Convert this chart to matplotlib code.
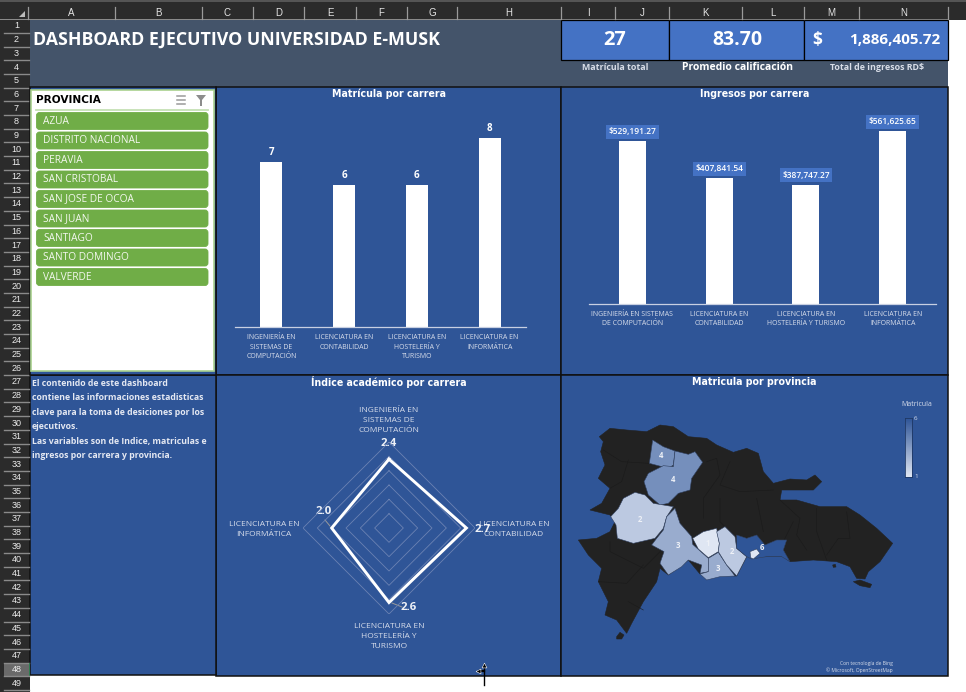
"""
Dashboard ejecutivo Universidad E-Musk, redrawn as a spreadsheet screenshot.
The root axes works in image pixels, charts get their own axes placed on it.
"""

import numpy as np
import matplotlib
matplotlib.use("Agg")
import matplotlib.pyplot as plt
from matplotlib.colors import LinearSegmentedColormap, Normalize
from matplotlib.patches import FancyBboxPatch, Polygon, Rectangle

W, H = 966, 692

# ---- Data ----
carreras_mat = ["INGENIERÍA EN\nSISTEMAS DE\nCOMPUTACIÓN", "LICENCIATURA EN\nCONTABILIDAD",
                "LICENCIATURA EN\nHOSTELERÍA Y\nTURISMO", "LICENCIATURA EN\nINFORMÁTICA"]
carreras_ing = ["INGENIERÍA EN SISTEMAS\nDE COMPUTACIÓN", "LICENCIATURA EN\nCONTABILIDAD",
                "LICENCIATURA EN\nHOSTELERÍA Y TURISMO", "LICENCIATURA EN\nINFORMÁTICA"]
matricula = [7, 6, 6, 8]
ingresos = [529191.27, 407841.54, 387747.27, 561625.65]
indice = [2.4, 2.7, 2.6, 2.0]
indice_labels = ["INGENIERÍA EN\nSISTEMAS DE\nCOMPUTACIÓN", "LICENCIATURA EN\nCONTABILIDAD",
                 "LICENCIATURA EN\nHOSTELERÍA Y\nTURISMO", "LICENCIATURA EN\nINFORMÁTICA"]
provincias = ["AZUA", "DISTRITO NACIONAL", "PERAVIA", "SAN CRISTOBAL", "SAN JOSE DE OCOA",
              "SAN JUAN", "SANTIAGO", "SANTO DOMINGO", "VALVERDE"]
columnas = ["A", "B", "C", "D", "E", "F", "G", "H", "I", "J", "K", "L", "M", "N"]
col_edges = [28, 115, 202, 253, 304, 356, 407, 457, 561, 615, 669, 742, 804, 859, 948]
descripcion = ["El contenido de este dashboard", "contiene las informaciones estadisticas",
               "clave para la toma de desiciones por los", "ejecutivos.",
               "Las variables son de Indice, matriculas e", "ingresos por carrera y provincia."]

# map outlines
pais = [(118, 185), (150, 160), (200, 165), (260, 170), (300, 150), (340, 155), (385, 185), (440, 190),
        (470, 210), (520, 232), (560, 220), (595, 235), (610, 290), (640, 325), (690, 312), (740, 315),
        (765, 300), (785, 320), (760, 345), (700, 345), (665, 345), (660, 375), (710, 375), (780, 395),
        (860, 395), (900, 420), (950, 460), (998, 505), (960, 560), (925, 590), (915, 612), (890, 610),
        (870, 575), (830, 560), (760, 555), (690, 560), (670, 545), (560, 545), (530, 603), (420, 597),
        (385, 555), (325, 600), (300, 580), (290, 620), (250, 680), (215, 745), (200, 775), (170, 735),
        (135, 720), (145, 680), (115, 620), (125, 580), (85, 540), (55, 495), (110, 490), (150, 470),
        (165, 440), (150, 420), (90, 405), (125, 385), (150, 340), (115, 310), (135, 270), (122, 230),
        (130, 200)]
saona = [(880, 620), (900, 615), (935, 628), (930, 638), (900, 632)]
beata = [(170, 785), (180, 772), (192, 780), (185, 792), (170, 792)]
cayo = [(818, 570), (826, 568), (828, 576), (820, 577)]
valverde = [(278, 195), (310, 215), (345, 228), (340, 270), (325, 280), (268, 265)]
santiago = [(345, 228), (385, 238), (405, 230), (428, 262), (395, 310), (390, 345), (355, 355),
            (325, 385), (300, 390), (265, 360), (252, 320), (265, 295), (310, 272), (340, 275)]
san_juan = [(225, 352), (255, 360), (280, 385), (340, 395), (320, 425), (310, 460), (285, 490),
            (220, 505), (172, 490), (168, 450), (152, 425), (175, 400), (190, 370)]
azua = [(345, 400), (360, 445), (395, 485), (398, 508), (445, 550), (445, 590), (420, 595), (425, 570),
        (385, 555), (365, 575), (325, 600), (300, 565), (312, 530), (275, 510), (290, 490), (310, 465),
        (320, 425)]
ocoa = [(398, 490), (430, 470), (470, 460), (478, 505), (475, 530), (445, 548), (415, 522)]
peravia = [(475, 532), (500, 570), (525, 603), (480, 605), (440, 615), (420, 597), (445, 590), (445, 550)]
san_cristobal = [(495, 455), (525, 485), (530, 520), (560, 545), (530, 603), (500, 570), (475, 530),
                 (478, 505), (470, 470)]
santo_domingo = [(530, 480), (560, 490), (590, 480), (615, 510), (650, 495), (680, 495), (670, 525),
                 (690, 560), (665, 545), (620, 545), (575, 552), (560, 545), (530, 520)]
distrito = [(570, 530), (590, 522), (600, 535), (580, 552), (572, 548)]
map_shapes = [valverde, santiago, san_juan, azua, ocoa, peravia, san_cristobal, santo_domingo, distrito]
map_values = [4, 4, 2, 3, 1, 3, 2, 6, 1]
map_label_pos = [(303, 242), (339, 312), (239, 434), (355, 512), (442, 505), (473, 580), (516, 531),
                 (607, 518), None]
# province borders inside the dark part of the country
bordes = [[(130, 225), (185, 260), (268, 265)], [(205, 255), (185, 320), (150, 340)],
          [(440, 260), (470, 250), (480, 300), (430, 370), (430, 430)], [(510, 260), (480, 330), (540, 350), (640, 345)],
          [(480, 370), (480, 440), (510, 470)], [(590, 370), (610, 470)], [(660, 375), (720, 430), (710, 480), (740, 525)],
          [(770, 400), (770, 470), (800, 555)], [(860, 410), (870, 490), (835, 490), (800, 540)],
          [(150, 500), (150, 530), (250, 580), (300, 530)], [(115, 620), (200, 625), (250, 570)],
          [(205, 680), (250, 705)], [(380, 310), (330, 380)], [(700, 440), (670, 500)]]

# ---- Colours ----
CHROME = "#2b2b2b"
BAND = "#44546a"
PANEL = "#2f5597"
KPI = "#4472c4"
GREEN = "#70ad47"
TXT = "#d6dcea"
FONT = ["Open Sans", "DejaVu Sans"]

plt.rcParams["font.family"] = FONT

fig = plt.figure(figsize=(W / 100, H / 100), dpi=100, facecolor="white")
root = fig.add_axes([0, 0, 1, 1])
root.set_xlim(0, W)
root.set_ylim(H, 0)
root.axis("off")


def box(x0, y0, x1, y1, color, edge="none", lw=0, z=1):
    root.add_patch(Rectangle((x0, y0), x1 - x0, y1 - y0, facecolor=color, edgecolor=edge, linewidth=lw, zorder=z))


def place_axes(x0, y0, x1, y1, **kw):
    # pixel box (top-left origin) to figure fraction
    return fig.add_axes([x0 / W, 1 - y1 / H, (x1 - x0) / W, (y1 - y0) / H], **kw)


# ---- Spreadsheet chrome ----
box(0, 0, W, 20, CHROME)
box(0, 0, 30, H, CHROME)
box(0, 0, W, 1.5, "#555555", z=2)
box(0, 19, 948, 20, "#8a8a8a", z=2)
for x in col_edges:
    root.plot([x, x], [7, 19], color="#9a9a9a", lw=0.9, zorder=3)
for name, x0, x1 in zip(columnas, col_edges[:-1], col_edges[1:]):
    root.text((x0 + x1) / 2, 13, name, color="#e4e4e4", fontsize=7, ha="center", va="center",
              family=["Liberation Sans"], zorder=3)
root.add_patch(Polygon([(25, 11), (25, 17), (19, 17)], facecolor="#bbbbbb", zorder=3))
for r in range(1, 50):
    yc = 26 + (r - 1) * 13.69
    if r == 48:
        box(4, yc - 6.8, 29, yc + 6.8, "#6a6a6a", z=2)
        box(28.5, yc - 6.8, 30, yc + 6.8, "#2e7d4f", z=3)
    root.plot([4, 29], [yc + 6.85, yc + 6.85], color="#8a8a8a", lw=1, zorder=3)
    root.text(16.5, yc, str(r), color="#ececec", fontsize=6.5, ha="center", va="center",
              family=["Liberation Sans"], zorder=4)

# ---- Dashboard panels ----
box(30, 20, 948, 87, BAND)
box(561, 20, 669, 60, KPI, "black", 0.9, z=2)
box(669, 20, 804, 60, KPI, "black", 0.9, z=2)
box(804, 20, 948, 60, KPI, "black", 0.9, z=2)
for x0, y0, x1, y1 in [(216, 87, 561, 375), (561, 87, 948, 375), (216, 375, 561, 676),
                       (561, 375, 948, 676), (30, 375, 216, 675)]:
    box(x0, y0, x1, y1, PANEL, "#101010", 1.1, z=2)

root.text(33, 40, "DASHBOARD EJECUTIVO UNIVERSIDAD E-MUSK", color="white", fontsize=12.8, weight="bold",
          va="center", zorder=5)
root.text(615, 40, "27", color="white", fontsize=14.5, weight="bold", ha="center", va="center", zorder=5)
root.text(737, 40, "83.70", color="white", fontsize=14, weight="bold", ha="center", va="center", zorder=5)
root.text(812, 40, "$", color="white", fontsize=12.5, weight="bold", va="center", zorder=5)
root.text(940, 40, "1,886,405.72", color="white", fontsize=11, weight="bold", ha="right", va="center", zorder=5)
root.text(615, 68, "Matrícula total", color="#d9dee8", fontsize=6.4, weight="bold", ha="center", va="center", zorder=5)
root.text(737, 68, "Promedio calificación", color="white", fontsize=7.5, weight="bold", ha="center", va="center", zorder=5)
root.text(877, 68, "Total de ingresos RD$", color="#d9dee8", fontsize=6.4, weight="bold", ha="center", va="center", zorder=5)

for txt, x, y in [("Matrícula por carrera", 389, 94), ("Ingresos por carrera", 755, 94),
                  ("Índice académico por carrera", 389, 382), ("Matricula por provincia", 754, 382)]:
    root.text(x, y, txt, color="white", fontsize=6.85, weight="bold", ha="center", va="center", zorder=5,
              family=["DejaVu Sans"])

for i, line in enumerate(descripcion):
    root.text(32, 383 + i * 14.6, line, color="#e4e8f2", fontsize=6.35, weight="bold", va="center", zorder=5)

# ---- Slicer ----
box(30, 87, 216, 375, PANEL, "#101010", 1.1, z=3)
box(31, 90, 213.5, 371, "white", "#a9d18e", 1.2, z=4)
root.text(36, 100, "PROVINCIA", color="black", fontsize=7.6, weight="bold", va="center", zorder=5,
          family=["DejaVu Sans"])
root.plot([36, 208], [109.5, 109.5], color="#c5e0b4", lw=1.3, zorder=5)
for dy in (-4, 0, 4):
    root.plot([177, 185], [100 + dy, 100 + dy], color="#9a9a9a", lw=1.1, zorder=5)
root.add_patch(Polygon([(196, 95), (206, 95), (202, 100), (202, 106), (200, 106), (200, 100)],
                       facecolor="#8c8c8c", zorder=5))
for i, prov in enumerate(provincias):
    y = 112.5 + i * 19.5
    root.add_patch(FancyBboxPatch((36.5, y), 171.5, 17, boxstyle="round,pad=0,rounding_size=3",
                                  facecolor=GREEN, edgecolor=GREEN, linewidth=0.6, zorder=5))
    root.text(43, y + 8.6, prov, color="#f4f8f0", fontsize=7.3, va="center", zorder=6)

# ---- Matrícula por carrera ----
ax = place_axes(235, 138, 526, 327)
ax.patch.set_alpha(0)
ax.bar(range(len(matricula)), matricula, width=0.3, color="white")
ax.set_xlim(-0.5, 3.5)
ax.set_ylim(0, max(matricula))
ax.set_xticks(range(4))
ax.set_xticklabels(carreras_mat, color=TXT, fontsize=5, linespacing=1.55)
ax.set_yticks([])
ax.tick_params(axis="x", length=0, pad=5)
for s in ("top", "left", "right"):
    ax.spines[s].set_visible(False)
ax.spines["bottom"].set_color("#c8d0e2")
ax.spines["bottom"].set_linewidth(0.9)
for i, v in enumerate(matricula):
    ax.annotate(str(v), (i, v), xytext=(0, 5), textcoords="offset points", ha="center", color="white",
                fontsize=7, weight="bold", annotation_clip=False)

# ---- Ingresos por carrera ----
ax = place_axes(589, 131, 936, 304)
ax.patch.set_alpha(0)
ax.bar(range(len(ingresos)), ingresos, width=0.31, color="white")
ax.set_xlim(-0.5, 3.5)
ax.set_ylim(0, max(ingresos))
ax.set_xticks(range(4))
ax.set_xticklabels(carreras_ing, color=TXT, fontsize=5, linespacing=1.5)
ax.set_yticks([])
ax.tick_params(axis="x", length=0, pad=5)
for s in ("top", "left", "right"):
    ax.spines[s].set_visible(False)
ax.spines["bottom"].set_color("#c8d0e2")
ax.spines["bottom"].set_linewidth(0.9)
for i, v in enumerate(ingresos):
    ax.annotate(f"${v:,.2f}", (i, v), xytext=(0, 5), textcoords="offset points", ha="center", color="white",
                fontsize=6, weight="semibold", annotation_clip=False,
                bbox=dict(boxstyle="square,pad=0.3", facecolor=KPI, edgecolor="none"))

# ---- Índice académico (radar) ----
cx, cy, rad = 389, 528, 86
ax = place_axes(cx - rad, cy - rad, cx + rad, cy + rad, projection="polar")
ax.patch.set_alpha(0)
ax.set_theta_zero_location("N")
ax.set_theta_direction(-1)
angles = np.arange(4) * np.pi / 2
closed = np.append(angles, angles[0])
for ring in [0.5, 1.0, 1.5, 2.0, 2.5, 3.0]:
    ax.plot(closed, [ring] * 5, color="#6b82b3", lw=0.6)
ax.plot(closed, indice + indice[:1], color="white", lw=2.1, solid_joinstyle="miter")
ax.set_ylim(0, 3.0)
ax.set_xticks([])
ax.set_yticks([])
ax.grid(False)
ax.spines["polar"].set_visible(False)

for lab, x, y in zip(indice_labels, [389, 514, 389, 264], [420, 529, 637, 529]):
    root.text(x, y, lab, color=TXT, fontsize=6, ha="center", va="center", linespacing=1.6, zorder=5)
for v, x, y in zip(indice, [389, 483, 409, 324], [443, 529, 607, 512]):
    root.text(x, y, f"{v:.1f}", color="#eef1f7", fontsize=8.2, weight="bold", ha="center", va="center", zorder=6)
root.plot([325, 330], [520, 526], color="#9a9a9a", lw=0.7, zorder=4)
root.plot([392, 402], [603, 607], color="#9a9a9a", lw=0.7, zorder=4)

# ---- Matrícula por provincia (map) ----
cmap = LinearSegmentedColormap.from_list("matricula", ["#dfe6f3", PANEL])
norm = Normalize(vmin=1, vmax=6)


def to_px(points):
    return [(560 + px / 3, 375 + py / 3) for px, py in points]


for shape in (pais, saona, beata, cayo):
    root.add_patch(Polygon(to_px(shape), closed=True, facecolor="#222222", edgecolor="#222222", lw=0.4, zorder=3))
for b in bordes:
    xs, ys = zip(*to_px(b))
    root.plot(xs, ys, color="#1a1a1a", lw=0.4, zorder=3)
for shape, val, pos in zip(map_shapes, map_values, map_label_pos):
    root.add_patch(Polygon(to_px(shape), closed=True, facecolor=cmap(norm(val)), edgecolor="#30405f", lw=0.4, zorder=4))
    if pos is not None:
        (x, y), = to_px([pos])
        root.text(x, y, str(val), color="#eef1f7", fontsize=5.6, weight="bold", ha="center", va="center", zorder=5)

ax = place_axes(904.5, 418, 911.5, 477)
ax.imshow(np.linspace(6, 1, 64).reshape(-1, 1), aspect="auto", cmap=cmap, norm=norm)
ax.set_xticks([])
ax.set_yticks([])
for s in ax.spines.values():
    s.set_color("#1f3864")
    s.set_linewidth(0.6)
root.text(917, 405, "Matricula", color=TXT, fontsize=5, ha="center", va="center", zorder=5)
root.text(916, 418, "6", color=TXT, fontsize=4.6, ha="center", va="center", zorder=5)
root.text(916, 477, "1", color=TXT, fontsize=4.6, ha="center", va="center", zorder=5)
root.text(893, 664, "Con tecnología de Bing", color=TXT, fontsize=3.6, ha="right", va="center", zorder=5)
root.text(893, 670.5, "© Microsoft, OpenStreetMap", color=TXT, fontsize=3.6, ha="right", va="center", zorder=5)

# resize cursor left on the screenshot
root.plot([484, 484], [664, 685], color="black", lw=1, zorder=7)
root.plot([479, 484], [671, 671], color="black", lw=1.6, zorder=7)
root.plot([484], [665], marker="^", ms=3.5, color="black", mec="white", mew=0.4, zorder=8)
root.plot([478], [671], marker="<", ms=3.5, color="black", mec="white", mew=0.4, zorder=8)

fig.savefig("out.png", dpi=100)
plt.close(fig)
